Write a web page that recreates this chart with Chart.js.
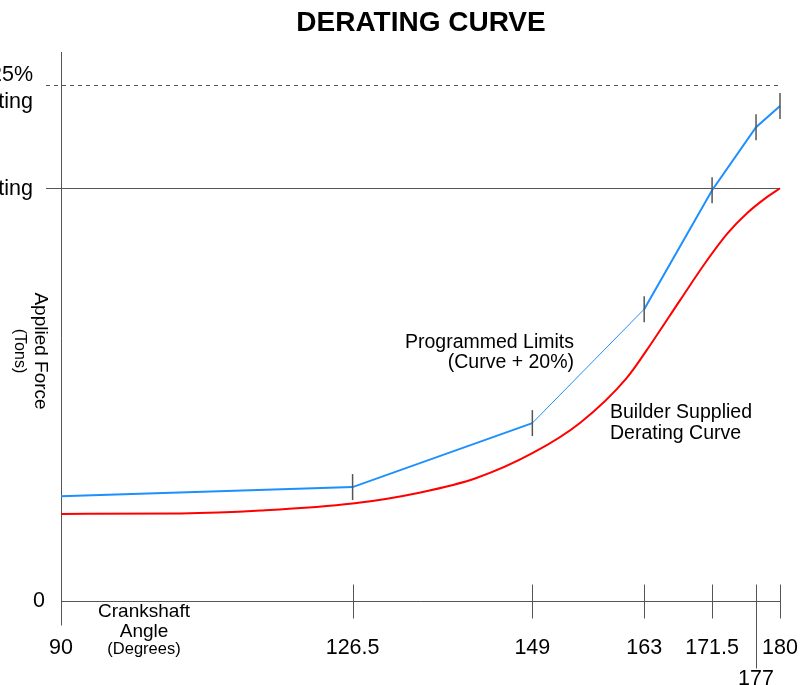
<!DOCTYPE html>
<html>
<head>
<meta charset="utf-8">
<script src="https://cdn.jsdelivr.net/npm/chart.js@4/dist/chart.umd.min.js"></script>
<style>
  body { margin: 0; background: #fff; }
  #wrap { width: 801px; height: 685px; position: relative; }
</style>
</head>
<body>
<div id="wrap"><canvas id="chart"></canvas></div>
<script>
// crankshaft angle ticks (degrees)
const angleTicks = [90, 126.5, 149, 163, 171.5, 177, 180]

// programmed limits, % of rating
const limitAngles = [90, 126.5, 149, 163, 171.5, 177, 180]
const limitValues = [25.4, 27.6, 43.1, 70.7, 99.5, 114.8, 119.9]

// builder supplied derating curve, % of rating
const curveAngles = [90, 105, 115, 126.5, 135, 142, 149, 155, 160.8, 164.1, 167.5, 170.9, 173.4, 175.9, 178.4, 180]
const curveValues = [21.1, 21.2, 21.9, 23.6, 26.3, 29.8, 35.8, 43.2, 54.0, 63.0, 72.9, 82.6, 89.0, 94.0, 97.9, 100]

const ratingLevels = [100, 125]

const axisColor = '#555'
const font = 'Liberation Sans, Arial, sans-serif'

const decorations = {
  id: 'decorations',
  beforeDatasetsDraw(chart) {
    const { ctx, scales: { x, y }, chartArea } = chart
    ctx.save()
    ctx.strokeStyle = axisColor
    ctx.lineWidth = 1

    // rating reference lines
    const yRate = Math.round(y.getPixelForValue(ratingLevels[0])) + 0.5
    ctx.beginPath()
    ctx.moveTo(46, yRate)
    ctx.lineTo(chartArea.right, yRate)
    ctx.stroke()

    const yOver = Math.round(y.getPixelForValue(ratingLevels[1])) + 0.5
    ctx.setLineDash([4, 4])
    ctx.beginPath()
    ctx.moveTo(46, yOver)
    ctx.lineTo(chartArea.right, yOver)
    ctx.stroke()
    ctx.setLineDash([])

    // axes
    const x0 = Math.round(x.getPixelForValue(90)) + 0.5
    const y0 = Math.round(y.getPixelForValue(0)) + 0.5
    ctx.beginPath()
    ctx.moveTo(x0, chartArea.top)
    ctx.lineTo(x0, y0 + 24)
    ctx.moveTo(x0, y0)
    ctx.lineTo(chartArea.right, y0)
    ctx.stroke()

    angleTicks.forEach((a) => {
      if (a === 90) return
      const px = Math.round(x.getPixelForValue(a)) + 0.5
      ctx.beginPath()
      ctx.moveTo(px, y0 - 17)
      ctx.lineTo(px, a === 177 ? y0 + 67 : y0 + 17)
      ctx.stroke()
    })
    ctx.restore()
  },
  afterDraw(chart) {
    const { ctx, scales: { x, y } } = chart
    const y0 = y.getPixelForValue(0)
    ctx.save()
    ctx.fillStyle = '#000'
    ctx.textBaseline = 'middle'

    // tick labels
    ctx.font = '21.5px ' + font
    ctx.textAlign = 'center'
    angleTicks.forEach((a) => {
      const px = x.getPixelForValue(a)
      ctx.fillText(String(a), px, a === 177 ? y0 + 78 : y0 + 47)
    })

    ctx.textAlign = 'right'
    ctx.fillText('0', 45, y0)
    ctx.fillText('125%', 33, y.getPixelForValue(ratingLevels[1]) - 10)
    ctx.fillText('Rating', 33, y.getPixelForValue(ratingLevels[1]) + 17)
    ctx.fillText('Rating', 33, y.getPixelForValue(ratingLevels[0]) + 1)

    // title
    ctx.textAlign = 'center'
    ctx.font = 'bold 28px ' + font
    ctx.fillText('DERATING CURVE', 421, 23)

    // x axis title
    ctx.font = '19px ' + font
    ctx.fillText('Crankshaft', 144, y0 + 11)
    ctx.fillText('Angle', 144, y0 + 31)
    ctx.font = '16.5px ' + font
    ctx.fillText('(Degrees)', 144, y0 + 48)

    // y axis title
    ctx.save()
    ctx.translate(40, 351)
    ctx.rotate(Math.PI / 2)
    ctx.font = '19px ' + font
    ctx.fillText('Applied Force', 0, 0)
    ctx.font = '16px ' + font
    ctx.fillText('(Tons)', 0, 21)
    ctx.restore()

    // annotations
    ctx.font = '19.5px ' + font
    ctx.textAlign = 'right'
    ctx.fillText('Programmed Limits', 574, 343)
    ctx.fillText('(Curve + 20%)', 574, 363)
    ctx.textAlign = 'left'
    ctx.fillText('Builder Supplied', 610, 413)
    ctx.fillText('Derating Curve', 610, 434)
    ctx.restore()
  }
}

new Chart(document.getElementById('chart'), {
  type: 'line',
  data: {
    datasets: [
      {
        label: 'Builder Supplied Derating Curve',
        data: curveAngles.map((a, i) => ({ x: a, y: curveValues[i] })),
        borderColor: '#ff0000',
        borderWidth: 2,
        pointRadius: 0,
        cubicInterpolationMode: 'monotone',
        clip: false
      },
      {
        label: 'Programmed Limits (Curve + 20%)',
        data: limitAngles.map((a, i) => ({ x: a, y: limitValues[i] })),
        borderColor: '#1e8fff',
        borderWidth: 2,
        segment: {
          borderWidth: (c) => (c.p0DataIndex === 2 ? 1 : 2)
        },
        pointStyle: 'line',
        pointRotation: 90,
        pointRadius: limitAngles.map((a) => (a === 90 ? 0 : 13)),
        pointBorderColor: axisColor,
        pointBorderWidth: 1.5,
        pointHoverRadius: 13,
        clip: false
      }
    ]
  },
  options: {
    responsive: true,
    maintainAspectRatio: false,
    animation: false,
    layout: { padding: { left: 61, right: 21, top: 52, bottom: 84 } },
    plugins: {
      legend: { display: false },
      tooltip: { enabled: false }
    },
    scales: {
      x: { type: 'linear', min: 90, max: 180, display: false },
      y: { min: 0, max: 133, display: false }
    }
  },
  plugins: [decorations]
})
</script>
</body>
</html>
